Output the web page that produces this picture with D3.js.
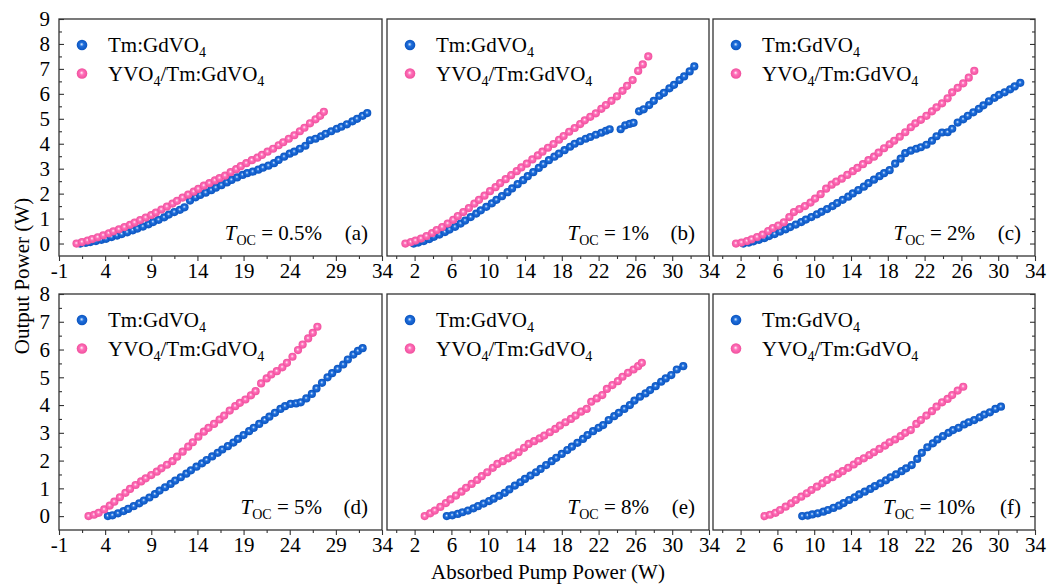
<!DOCTYPE html>
<html><head><meta charset="utf-8">
<script src="https://cdn.jsdelivr.net/npm/d3@7"></script>
<style>
body{margin:0;background:#fff}
svg{display:block}
text{font-family:"Liberation Serif","Times New Roman",serif;fill:#000}
</style>
</head><body>
<svg id="c" width="1048" height="585"></svg>
<script>
// ---------- data ----------
const seriesNames = ["Tm:GdVO4", "YVO4/Tm:GdVO4"];
const tocValues = ["0.5%", "1%", "2%", "5%", "8%", "10%"];
const panelLetters = ["(a)", "(b)", "(c)", "(d)", "(e)", "(f)"];
const xTicksA = [-1, 4, 9, 14, 19, 24, 29, 34];
const xMinorA = [1.5, 6.5, 11.5, 16.5, 21.5, 26.5, 31.5];
const xTicksB = [2, 6, 10, 14, 18, 22, 26, 30, 34];
const xMinorB = [0, 4, 8, 12, 16, 20, 24, 28, 32];
const yTicksTop = [0, 1, 2, 3, 4, 5, 6, 7, 8, 9];
const yTicksBottom = [0, 1, 2, 3, 4, 5, 6, 7, 8];
const xTitle = "Absorbed Pump Power (W)";
const yTitle = "Output Power (W)";

const aBlue = [[1.3,0.00],[1.9,0.03],[2.4,0.06],[3.0,0.10],[3.6,0.15],[4.1,0.19],[4.7,0.26],[5.3,0.32],[5.8,0.38],[6.4,0.45],[7.0,0.53],[7.5,0.60],[8.1,0.68],[8.7,0.77],[9.2,0.86],[9.8,0.95],[10.4,1.05],[10.9,1.16],[11.5,1.26],[12.1,1.35],[12.6,1.45],[13.2,1.72],[13.8,1.85],[14.3,1.95],[14.9,2.04],[15.5,2.14],[16.0,2.24],[16.6,2.34],[17.2,2.45],[17.7,2.55],[18.3,2.65],[18.9,2.75],[19.4,2.82],[20.0,2.88],[20.6,2.96],[21.1,3.04],[21.7,3.12],[22.3,3.22],[22.8,3.35],[23.4,3.48],[24.0,3.60],[24.5,3.68],[25.1,3.80],[25.7,3.92],[26.2,4.14],[26.8,4.20],[27.4,4.30],[27.9,4.40],[28.5,4.50],[29.1,4.60],[29.6,4.68],[30.2,4.78],[30.8,4.90],[31.3,5.00],[31.9,5.12],[32.4,5.23]];
const aPink = [[0.9,0.00],[1.5,0.06],[2.1,0.12],[2.6,0.18],[3.2,0.25],[3.8,0.33],[4.4,0.41],[4.9,0.49],[5.5,0.57],[6.1,0.66],[6.7,0.75],[7.2,0.84],[7.8,0.94],[8.4,1.04],[9.0,1.14],[9.5,1.24],[10.1,1.36],[10.7,1.48],[11.3,1.60],[11.8,1.71],[12.4,1.84],[13.0,1.96],[13.6,2.08],[14.1,2.19],[14.7,2.32],[15.3,2.42],[15.9,2.53],[16.4,2.62],[17.0,2.72],[17.6,2.86],[18.2,2.98],[18.7,3.10],[19.3,3.22],[19.9,3.34],[20.5,3.44],[21.0,3.55],[21.6,3.68],[22.2,3.80],[22.8,3.94],[23.3,4.06],[23.9,4.20],[24.5,4.34],[25.1,4.50],[25.6,4.64],[26.2,4.82],[26.8,4.98],[27.3,5.12],[27.7,5.28]];
const bBlue = [[1.9,0.00],[2.4,0.04],[3.0,0.10],[3.6,0.18],[4.1,0.27],[4.7,0.36],[5.3,0.46],[5.8,0.56],[6.4,0.67],[7.0,0.80],[7.5,0.92],[8.1,1.06],[8.7,1.20],[9.2,1.33],[9.8,1.47],[10.4,1.61],[10.9,1.75],[11.5,1.90],[12.1,2.06],[12.6,2.21],[13.2,2.38],[13.8,2.54],[14.3,2.70],[14.9,2.86],[15.5,3.03],[16.0,3.18],[16.6,3.34],[17.2,3.48],[17.7,3.60],[18.3,3.74],[18.9,3.88],[19.4,4.00],[20.0,4.10],[20.6,4.20],[21.1,4.27],[21.7,4.36],[22.3,4.44],[22.8,4.52],[23.2,4.58],[24.4,4.58],[24.9,4.74],[25.4,4.80],[25.8,4.84],[26.4,5.30],[26.9,5.38],[27.5,5.55],[28.0,5.72],[28.6,5.92],[29.1,6.04],[29.7,6.22],[30.2,6.36],[30.8,6.55],[31.3,6.70],[31.9,6.90],[32.4,7.10]];
const bPink = [[1.0,0.00],[1.6,0.06],[2.1,0.12],[2.7,0.20],[3.3,0.30],[3.9,0.42],[4.4,0.54],[5.0,0.66],[5.6,0.80],[6.2,0.95],[6.7,1.10],[7.3,1.26],[7.9,1.42],[8.5,1.60],[9.0,1.75],[9.6,1.92],[10.2,2.10],[10.8,2.26],[11.3,2.42],[11.9,2.58],[12.5,2.74],[13.1,2.90],[13.6,3.05],[14.2,3.20],[14.8,3.37],[15.4,3.53],[15.9,3.68],[16.5,3.84],[17.1,3.99],[17.7,4.16],[18.2,4.31],[18.8,4.48],[19.4,4.63],[20.0,4.79],[20.5,4.94],[21.1,5.08],[21.7,5.22],[22.3,5.40],[22.8,5.55],[23.4,5.72],[24.0,5.90],[24.6,6.12],[25.1,6.32],[25.7,6.55],[26.3,6.92],[26.8,7.18],[27.4,7.50]];
const cBlue = [[2.3,0.00],[2.9,0.04],[3.4,0.09],[4.0,0.15],[4.6,0.22],[5.1,0.30],[5.7,0.38],[6.3,0.48],[6.9,0.57],[7.4,0.66],[8.0,0.76],[8.6,0.86],[9.1,0.96],[9.7,1.06],[10.3,1.17],[10.8,1.27],[11.4,1.38],[12.0,1.50],[12.5,1.62],[13.1,1.75],[13.7,1.88],[14.2,2.01],[14.8,2.14],[15.4,2.28],[15.9,2.42],[16.5,2.56],[17.1,2.70],[17.6,2.82],[18.2,2.94],[18.8,3.20],[19.4,3.40],[19.9,3.62],[20.5,3.72],[21.1,3.80],[21.6,3.86],[22.2,3.96],[22.8,4.12],[23.3,4.30],[23.9,4.45],[24.5,4.46],[25.0,4.60],[25.6,4.85],[26.2,4.98],[26.7,5.12],[27.3,5.26],[27.9,5.40],[28.4,5.54],[29.0,5.70],[29.6,5.84],[30.1,5.96],[30.7,6.06],[31.3,6.18],[31.8,6.30],[32.4,6.44]];
const cPink = [[1.5,0.00],[2.1,0.04],[2.7,0.10],[3.2,0.17],[3.8,0.26],[4.4,0.36],[5.0,0.50],[5.5,0.62],[6.1,0.72],[6.7,0.85],[7.3,1.06],[7.8,1.26],[8.4,1.38],[9.0,1.50],[9.6,1.64],[10.1,1.80],[10.7,1.98],[11.3,2.20],[11.9,2.36],[12.4,2.48],[13.0,2.60],[13.6,2.75],[14.2,2.90],[14.7,3.03],[15.3,3.18],[15.9,3.34],[16.5,3.48],[17.0,3.64],[17.6,3.82],[18.2,3.98],[18.7,4.12],[19.3,4.28],[19.9,4.46],[20.5,4.66],[21.0,4.82],[21.6,4.96],[22.2,5.12],[22.8,5.30],[23.3,5.46],[23.9,5.62],[24.5,5.82],[25.0,6.06],[25.6,6.24],[26.2,6.42],[26.8,6.65],[27.4,6.92]];
const dBlue = [[4.3,0.00],[4.8,0.03],[5.4,0.10],[6.0,0.18],[6.5,0.26],[7.1,0.36],[7.7,0.46],[8.2,0.56],[8.8,0.67],[9.4,0.79],[9.9,0.92],[10.5,1.04],[11.1,1.16],[11.6,1.28],[12.2,1.40],[12.8,1.53],[13.3,1.65],[13.9,1.78],[14.5,1.90],[15.0,2.02],[15.6,2.15],[16.2,2.28],[16.7,2.40],[17.3,2.52],[17.9,2.65],[18.4,2.78],[19.0,2.92],[19.6,3.06],[20.1,3.18],[20.7,3.32],[21.3,3.46],[21.8,3.58],[22.4,3.72],[23.0,3.86],[23.5,3.96],[24.1,4.04],[24.7,4.06],[25.2,4.10],[25.8,4.24],[26.4,4.40],[26.9,4.60],[27.5,4.80],[28.1,5.00],[28.6,5.15],[29.2,5.30],[29.8,5.46],[30.3,5.64],[30.9,5.82],[31.4,5.95],[31.9,6.05]];
const dPink = [[2.2,0.00],[2.8,0.05],[3.3,0.12],[3.9,0.24],[4.5,0.38],[5.0,0.52],[5.6,0.68],[6.2,0.84],[6.7,0.98],[7.3,1.12],[7.9,1.25],[8.4,1.36],[9.0,1.48],[9.6,1.60],[10.1,1.72],[10.7,1.85],[11.3,1.98],[11.8,2.14],[12.4,2.32],[13.0,2.50],[13.5,2.66],[14.1,2.86],[14.7,3.04],[15.2,3.18],[15.8,3.32],[16.4,3.48],[16.9,3.62],[17.5,3.80],[18.1,3.96],[18.6,4.08],[19.2,4.20],[19.8,4.35],[20.3,4.50],[20.9,4.78],[21.5,4.96],[22.0,5.10],[22.6,5.22],[23.2,5.36],[23.7,5.52],[24.3,5.74],[24.9,5.98],[25.4,6.18],[26.0,6.40],[26.5,6.60],[27.0,6.82]];
const eBlue = [[5.5,0.00],[6.1,0.03],[6.7,0.08],[7.2,0.14],[7.8,0.20],[8.4,0.28],[8.9,0.36],[9.5,0.45],[10.1,0.54],[10.6,0.63],[11.2,0.73],[11.8,0.84],[12.3,0.96],[12.9,1.10],[13.5,1.22],[14.0,1.34],[14.6,1.46],[15.2,1.58],[15.7,1.70],[16.3,1.84],[16.9,1.98],[17.4,2.10],[18.0,2.24],[18.6,2.38],[19.1,2.50],[19.7,2.64],[20.3,2.78],[20.8,2.92],[21.4,3.06],[22.0,3.18],[22.5,3.28],[23.1,3.46],[23.7,3.60],[24.2,3.72],[24.8,3.86],[25.4,4.00],[25.9,4.16],[26.5,4.30],[27.1,4.42],[27.6,4.54],[28.2,4.68],[28.8,4.84],[29.3,4.96],[29.9,5.08],[30.5,5.28],[31.2,5.40]];
const ePink = [[3.1,0.00],[3.7,0.10],[4.2,0.20],[4.8,0.33],[5.4,0.47],[5.9,0.60],[6.5,0.74],[7.1,0.88],[7.6,1.02],[8.2,1.16],[8.8,1.30],[9.3,1.44],[9.9,1.58],[10.5,1.74],[11.0,1.88],[11.6,1.98],[12.2,2.08],[12.7,2.18],[13.3,2.30],[13.9,2.46],[14.4,2.60],[15.0,2.70],[15.6,2.80],[16.1,2.90],[16.7,3.02],[17.3,3.14],[17.8,3.26],[18.4,3.38],[19.0,3.50],[19.5,3.62],[20.1,3.76],[20.7,3.86],[21.2,4.12],[21.8,4.24],[22.4,4.36],[22.9,4.58],[23.5,4.72],[24.1,4.86],[24.6,5.02],[25.2,5.16],[25.8,5.28],[26.3,5.40],[26.7,5.52]];
const fBlue = [[8.7,0.00],[9.3,0.02],[9.8,0.06],[10.4,0.10],[11.0,0.16],[11.5,0.22],[12.1,0.30],[12.7,0.38],[13.2,0.47],[13.8,0.58],[14.4,0.68],[14.9,0.78],[15.5,0.88],[16.1,0.98],[16.6,1.08],[17.2,1.18],[17.8,1.29],[18.3,1.40],[18.9,1.50],[19.5,1.62],[20.0,1.72],[20.6,1.84],[21.2,2.06],[21.7,2.28],[22.3,2.48],[22.9,2.62],[23.4,2.76],[24.0,2.88],[24.6,3.00],[25.1,3.10],[25.7,3.18],[26.3,3.30],[26.8,3.38],[27.4,3.46],[28.0,3.56],[28.5,3.66],[29.1,3.74],[29.7,3.86],[30.3,3.94]];
const fPink = [[4.6,0.00],[5.2,0.05],[5.8,0.12],[6.3,0.22],[6.9,0.34],[7.5,0.46],[8.0,0.58],[8.6,0.70],[9.2,0.82],[9.7,0.94],[10.3,1.06],[10.9,1.18],[11.4,1.30],[12.0,1.40],[12.6,1.52],[13.1,1.62],[13.7,1.74],[14.3,1.86],[14.8,1.98],[15.4,2.08],[16.0,2.20],[16.5,2.30],[17.1,2.42],[17.7,2.54],[18.2,2.66],[18.8,2.76],[19.4,2.88],[19.9,3.00],[20.5,3.10],[21.1,3.32],[21.6,3.46],[22.2,3.62],[22.8,3.78],[23.3,3.94],[23.9,4.10],[24.5,4.22],[25.0,4.36],[25.6,4.52],[26.2,4.66]];

const blueSeries = [aBlue, bBlue, cBlue, dBlue, eBlue, fBlue];
const pinkSeries = [aPink, bPink, cPink, dPink, ePink, fPink];

// ---------- drawing ----------
const svg = d3.select("#c");
const defs = svg.append("defs");
function grad(id, stops) {
  const g = defs.append("radialGradient").attr("id", id)
    .attr("cx", "50%").attr("cy", "50%").attr("r", "50%").attr("fx", "46%").attr("fy", "42%");
  stops.forEach(s => g.append("stop").attr("offset", s[0]).attr("stop-color", s[1]));
}
grad("gBlue", [["0%", "#eef5ff"], ["14%", "#94bdf2"], ["38%", "#1f6edb"], ["100%", "#0b54bf"]]);
grad("gPink", [["0%", "#fff4fa"], ["14%", "#ffc4e3"], ["38%", "#ff6fb9"], ["100%", "#f0509d"]]);

const FS = 21, SUB = 14;
const cols = [{l: 59, r: 382}, {l: 387, r: 709}, {l: 713, r: 1035}];
const rows = [{t: 19, b: 256, ymax: 9, yt: yTicksTop}, {t: 294, b: 530, ymax: 8, yt: yTicksBottom}];
const ink = "#000", frameCol = "#333";

function subText(sel, str) {
  const parts = str.split(/(\d)/).filter(s => s.length);
  let down = false;
  parts.forEach(p => {
    const isD = /\d/.test(p);
    const t = sel.append("tspan").text(p);
    if (isD && !down) { t.attr("font-size", SUB).attr("dy", 5); down = true; }
    else if (!isD && down) { t.attr("dy", -5); down = false; }
  });
}

for (let i = 0; i < 6; i++) {
  const c = cols[i % 3], rw = rows[Math.floor(i / 3)];
  const col = i % 3;
  const x = d3.scaleLinear().domain([-1, 34]).range([c.l, c.r]);
  const y = d3.scaleLinear().domain([-0.5, rw.ymax]).range([rw.b, rw.t]);
  const g = svg.append("g");

  const xa = g.append("g").attr("transform", `translate(0,${rw.b})`)
    .call(d3.axisBottom(x).tickValues(col === 0 ? xTicksA : xTicksB).tickSize(5).tickPadding(2).tickFormat(d => String(d)));
  xa.select(".domain").remove();
  xa.attr("font-size", FS).attr("font-family", "Liberation Serif, serif").style("color", ink);
  xa.selectAll(".tick line").attr("stroke", frameCol).attr("stroke-width", 1.1);
  const xm = g.append("g").attr("transform", `translate(0,${rw.b})`)
    .call(d3.axisBottom(x).tickValues(col === 0 ? xMinorA : xMinorB).tickSize(3).tickFormat(""));
  xm.select(".domain").remove();
  xm.selectAll(".tick line").attr("stroke", frameCol).attr("stroke-width", 1.1);

  const minorY = rw.yt.map(v => v + 0.5).filter(v => v < rw.ymax);
  if (col === 0) {
    const ya = g.append("g").attr("transform", `translate(${c.l},0)`)
      .call(d3.axisLeft(y).tickValues(rw.yt).tickSize(-5).tickPadding(9).tickFormat(d => String(d)));
    ya.select(".domain").remove();
    ya.attr("font-size", FS).attr("font-family", "Liberation Serif, serif").style("color", ink);
    ya.selectAll(".tick line").attr("stroke", frameCol).attr("stroke-width", 1.1);
    const ym = g.append("g").attr("transform", `translate(${c.l},0)`)
      .call(d3.axisLeft(y).tickValues(minorY).tickSize(-3).tickFormat(""));
    ym.select(".domain").remove();
    ym.selectAll(".tick line").attr("stroke", frameCol).attr("stroke-width", 1.1);
  }
  if (col === 2) {
    const yr = g.append("g").attr("transform", `translate(${c.r},0)`)
      .call(d3.axisRight(y).tickValues(rw.yt).tickSize(-5).tickFormat(""));
    yr.select(".domain").remove();
    yr.selectAll(".tick line").attr("stroke", frameCol).attr("stroke-width", 1.1);
    const yrm = g.append("g").attr("transform", `translate(${c.r},0)`)
      .call(d3.axisRight(y).tickValues(minorY).tickSize(-3).tickFormat(""));
    yrm.select(".domain").remove();
    yrm.selectAll(".tick line").attr("stroke", frameCol).attr("stroke-width", 1.1);
  }

  g.append("rect").attr("x", c.l).attr("y", rw.t).attr("width", c.r - c.l).attr("height", rw.b - rw.t)
    .attr("fill", "none").attr("stroke", frameCol).attr("stroke-width", 1.3);

  g.append("g").selectAll("circle").data(blueSeries[i]).join("circle")
    .attr("cx", d => x(d[0])).attr("cy", d => y(d[1])).attr("r", 4.1).attr("fill", "url(#gBlue)");
  g.append("g").selectAll("circle").data(pinkSeries[i]).join("circle")
    .attr("cx", d => x(d[0])).attr("cy", d => y(d[1])).attr("r", 4.1).attr("fill", "url(#gPink)");

  const lg = g.append("g");
  [["url(#gBlue)", seriesNames[0]], ["url(#gPink)", seriesNames[1]]].forEach((s, k) => {
    const cy = rw.t + 26 + k * 28.5;
    lg.append("circle").attr("cx", c.l + 23).attr("cy", cy).attr("r", 5.3).attr("fill", s[0]);
    const t = lg.append("text").attr("x", c.l + 49).attr("y", cy + 7).attr("font-size", FS);
    subText(t, s[1]);
  });

  const an = g.append("text").attr("x", c.r - 60).attr("y", rw.b - 16).attr("font-size", FS).attr("text-anchor", "end");
  an.append("tspan").attr("font-style", "italic").text("T");
  an.append("tspan").attr("font-size", SUB).attr("dy", 5).text("OC");
  an.append("tspan").attr("dy", -5).text(" = " + tocValues[i]);
  g.append("text").attr("x", c.r - 14).attr("y", rw.b - 16).attr("font-size", FS).attr("text-anchor", "end").text(panelLetters[i]);
}

svg.append("text").attr("x", 548).attr("y", 579).attr("text-anchor", "middle").attr("font-size", FS).text(xTitle);
svg.append("text").attr("transform", "translate(29,276) rotate(-90)").attr("text-anchor", "middle").attr("font-size", FS).text(yTitle);
</script>
</body></html>
